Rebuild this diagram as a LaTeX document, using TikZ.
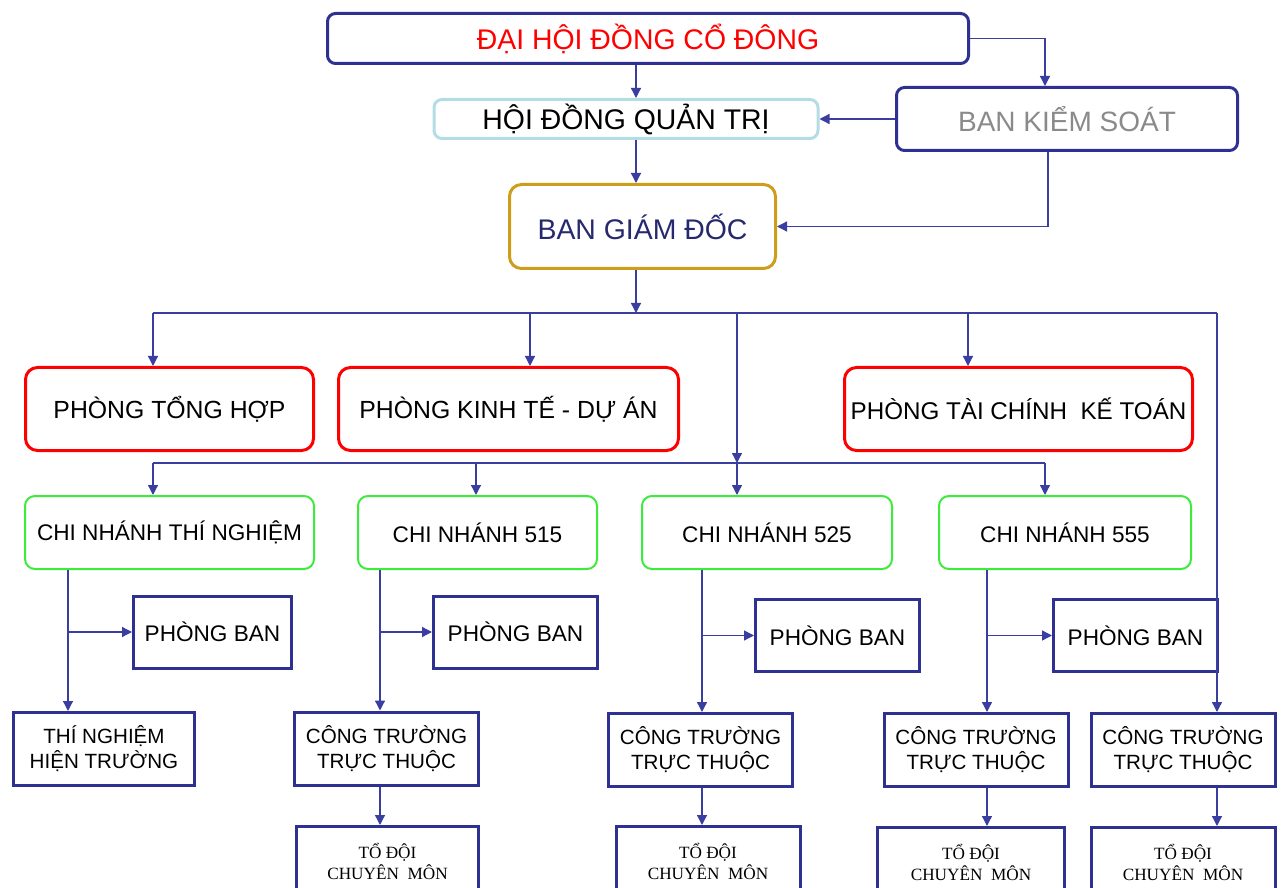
\documentclass[tikz,border=0pt]{standalone}
\usepackage{fontspec}
\setmainfont{Liberation Sans}
\newfontfamily\serifsmall{Liberation Serif}
\usepackage{xcolor}
\usepackage{tikz}
\usetikzlibrary{
  arrows.meta,
  positioning
}
\definecolor{navy}{HTML}{2E3192}
\definecolor{linkblue}{HTML}{3A3EA0}
\definecolor{hdqtblue}{HTML}{B4DCE4}
\definecolor{bgdgold}{HTML}{CC9E1A}
\definecolor{cngreen}{HTML}{3CEB3C}
\definecolor{bksgray}{HTML}{8A8A8A}
\definecolor{bgdtext}{HTML}{26296E}

\begin{document}
\begin{tikzpicture}[x=0.5pt, y=-0.5pt,
  box/.style={draw, align=center, inner sep=0pt, text=black},
  head/.style={box, line width=1.5pt, rounded corners=4pt,
               font=\fontsize{14.2}{17}\selectfont},
  phong/.style={box, draw=red, line width=1.5pt, rounded corners=6pt,
                minimum width=#1, minimum height=41.5pt,
                font=\fontsize{12.4}{15}\selectfont},
  nhanh/.style={box, draw=cngreen, line width=1pt, rounded corners=5pt,
                minimum width=#1, minimum height=36.5pt,
                font=\fontsize{11.3}{14}\selectfont},
  ban/.style={box, draw=navy, line width=1.5pt, minimum width=82pt,
              minimum height=36pt, font=\fontsize{11.3}{14}\selectfont},
  ctruong/.style={box, draw=navy, line width=1.5pt, minimum width=92pt,
                  minimum height=36.5pt, font=\fontsize{10.3}{12.5}\selectfont},
  todoi/.style={box, draw=navy, line width=1.5pt, minimum width=92pt,
                minimum height=34.5pt, font=\serifsmall\fontsize{8.6}{10.5}\selectfont},
  link/.style={linkblue, line width=0.65pt},
  arrow/.style={link, -{Triangle[length=5pt, width=5pt]}},
]
  \path[use as bounding box, clip] (0,0) rectangle (1282,888);

  % Top level
  \node[head, draw=navy, text=red, minimum width=320.5pt, minimum height=25pt]
    (dhdcd) at (648,38.5) {ĐẠI HỘI ĐỒNG CỔ ĐÔNG};
  \node[head, draw=hdqtblue, minimum width=192pt, minimum height=19.5pt]
    (hdqt) at (626,119) {HỘI ĐỒNG QUẢN TRỊ};
  \node[head, draw=navy, text=bksgray, minimum width=170.5pt, minimum height=31.5pt,
        font=\fontsize{14}{17}\selectfont]
    (bks) at (1067,119) {BAN KIỂM SOÁT};
  \node[head, draw=bgdgold, text=bgdtext, rounded corners=6pt,
        minimum width=133pt, minimum height=42pt]
    (bgd) at (642.5,226.5) {BAN GIÁM ĐỐC};

  % Phong ban
  \node[phong=144pt] (pth) at (169.5,409)  {PHÒNG TỔNG HỢP};
  \node[phong=170pt] (pkt) at (508.5,409)  {PHÒNG KINH TẾ - DỰ ÁN};
  \node[phong=174pt, font=\fontsize{12.1}{15}\selectfont]
    (ptc) at (1018.5,409) {PHÒNG TÀI CHÍNH\ \ KẾ TOÁN};

  % Chi nhanh
  \node[nhanh=144.5pt] (cntn)  at (169.5,532.5) {CHI NHÁNH THÍ NGHIỆM};
  \node[nhanh=119.5pt] (cn515) at (477.5,532.5) {CHI NHÁNH 515};
  \node[nhanh=125pt]   (cn525) at (767,532.5)   {CHI NHÁNH 525};
  \node[nhanh=126pt]   (cn555) at (1065,532.5)  {CHI NHÁNH 555};

  \node[ban, minimum width=79pt] (pb1) at (212.5,632) {PHÒNG BAN};
  \node[ban] (pb2) at (515.5,632)  {PHÒNG BAN};
  \node[ban] (pb3) at (837.5,635.5)  {PHÒNG BAN};
  \node[ban] (pb4) at (1135.5,635.5) {PHÒNG BAN};

  \node[ctruong, minimum width=90.5pt] (tnht) at (104,749) {THÍ NGHIỆM\\HIỆN TRƯỜNG};
  \node[ctruong] (ct515) at (386.5,748.5) {CÔNG TRƯỜNG\\TRỰC THUỘC};
  \node[ctruong] (ct525) at (700.5,750)   {CÔNG TRƯỜNG\\TRỰC THUỘC};
  \node[ctruong] (ct555) at (976,750)     {CÔNG TRƯỜNG\\TRỰC THUỘC};
  \node[ctruong] (ctbgd) at (1183,750)    {CÔNG TRƯỜNG\\TRỰC THUỘC};

  \node[todoi, minimum width=91pt] (td515) at (387.5,861) {TỔ ĐỘI\\CHUYÊN\ \ MÔN};
  \node[todoi] (td525) at (708,861)  {TỔ ĐỘI\\CHUYÊN\ \ MÔN};
  \node[todoi, minimum width=93.5pt] (td555) at (971,862) {TỔ ĐỘI\\CHUYÊN\ \ MÔN};
  \node[todoi] (tdbgd) at (1183,862) {TỔ ĐỘI\\CHUYÊN\ \ MÔN};

  % Connector positions
  \coordinate (spine) at (636,0);
  \coordinate (ksin)  at (1045,0);
  \coordinate (ksout) at (1048,0);
  \coordinate (b1l) at (153,313);
  \coordinate (b1k) at (530,313);
  \coordinate (b1m) at (737,313);
  \coordinate (b1c) at (968,313);
  \coordinate (b1r) at (1217,313);
  \coordinate (b2l) at (153,463);
  \coordinate (b2n) at (476,463);
  \coordinate (b2m) at (737,463);
  \coordinate (b2r) at (1045,463);
  \coordinate (v1) at (68,0);
  \coordinate (v2) at (380,0);
  \coordinate (v3) at (702,0);
  \coordinate (v4) at (987,0);

  % Top links
  \draw[arrow] (spine |- dhdcd.south) -- (spine |- hdqt.north);
  \draw[arrow] (dhdcd.east) -| (ksin |- bks.north);
  \draw[arrow] (bks.west) -- (hdqt.east);
  \draw[arrow] (spine |- hdqt.south) -- (spine |- bgd.north);
  \draw[arrow] (ksout |- bks.south) |- (bgd.east);
  \draw[arrow] (spine |- bgd.south) -- (spine |- b1l);

  % First bus
  \draw[link] (b1l) -- (b1r);
  \draw[arrow] (b1l) -- (b1l |- pth.north);
  \draw[arrow] (b1k) -- (b1k |- pkt.north);
  \draw[arrow] (b1c) -- (b1c |- ptc.north);
  \draw[arrow] (b1m) -- (b2m);
  \draw[arrow] (b1r) -- (b1r |- ctbgd.north);

  % Second bus
  \draw[link] (b2l) -- (b2r);
  \draw[arrow] (b2l) -- (b2l |- cntn.north);
  \draw[arrow] (b2n) -- (b2n |- cn515.north);
  \draw[arrow] (b2m) -- (b2m |- cn525.north);
  \draw[arrow] (b2r) -- (b2r |- cn555.north);

  % Branch links
  \draw[arrow] (v1 |- cntn.south) -- (v1 |- tnht.north);
  \draw[arrow] (v1 |- pb1.west) -- (pb1.west);
  \draw[arrow] (v2 |- cn515.south) -- (v2 |- ct515.north);
  \draw[arrow] (v2 |- pb2.west) -- (pb2.west);
  \draw[arrow] (v3 |- cn525.south) -- (v3 |- ct525.north);
  \draw[arrow] (v3 |- pb3.west) -- (pb3.west);
  \draw[arrow] (v4 |- cn555.south) -- (v4 |- ct555.north);
  \draw[arrow] (v4 |- pb4.west) -- (pb4.west);

  \draw[arrow] (v2 |- ct515.south) -- (v2 |- td515.north);
  \draw[arrow] (v3 |- ct525.south) -- (v3 |- td525.north);
  \draw[arrow] (v4 |- ct555.south) -- (v4 |- td555.north);
  \draw[arrow] (b1r |- ctbgd.south) -- (b1r |- tdbgd.north);
\end{tikzpicture}
\end{document}
